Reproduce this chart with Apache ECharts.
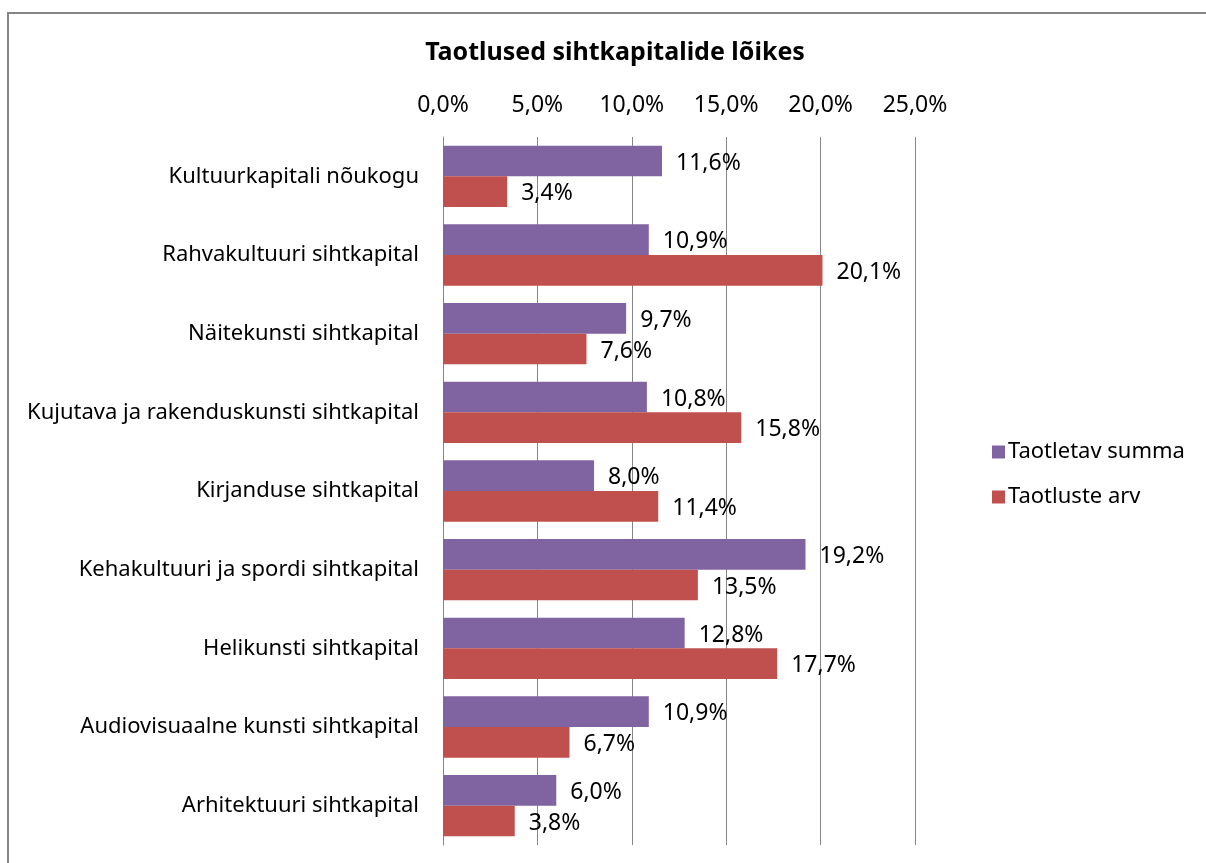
<!DOCTYPE html>
<html>
<head>
<meta charset="utf-8">
<script src="https://cdn.jsdelivr.net/npm/echarts@6/dist/echarts.min.js"></script>
<style>
html,body{margin:0;padding:0;background:#fff;}
#chart{width:1206px;height:863px;}
</style>
</head>
<body>
<div id="chart"></div>
<script>
const categories = [
  "Kultuurkapitali nõukogu",
  "Rahvakultuuri sihtkapital",
  "Näitekunsti sihtkapital",
  "Kujutava ja rakenduskunsti sihtkapital",
  "Kirjanduse sihtkapital",
  "Kehakultuuri ja spordi sihtkapital",
  "Helikunsti sihtkapital",
  "Audiovisuaalne kunsti sihtkapital",
  "Arhitektuuri sihtkapital"
];
const seriesNames = ["Taotletav summa", "Taotluste arv"];
const taotletavSumma = [11.6, 10.9, 9.7, 10.8, 8.0, 19.2, 12.8, 10.9, 6.0];
const taotlusteArv = [3.4, 20.1, 7.6, 15.8, 11.4, 13.5, 17.7, 6.7, 3.8];
const axisTicks = [0, 5, 10, 15, 20, 25];

const FONT = "Noto Sans";
const fmt = v => v.toFixed(1).replace('.', ',') + '%';

const chart = echarts.init(document.getElementById('chart'), null, {renderer: 'canvas'});
const labelStyle = {
  show: true,
  position: 'right',
  distance: 14,
  offset: [0, 2],
  fontFamily: FONT,
  fontSize: 23,
  color: '#000',
  formatter: p => fmt(p.value)
};
chart.setOption({
  animation: false,
  backgroundColor: '#fff',
  title: {
    text: 'Taotlused sihtkapitalide lõikes',
    left: 610,
    top: 35,
    textAlign: 'center',
    textStyle: {fontFamily: FONT, fontWeight: 'bold', fontSize: 25, color: '#000'}
  },
  legend: {
    orient: 'vertical',
    left: 987,
    top: 436,
    itemGap: 23,
    itemWidth: 13,
    itemHeight: 13,
    icon: 'rect',
    data: seriesNames,
    textStyle: {fontFamily: FONT, fontSize: 22, color: '#000', padding: [0, 0, 0, -2]}
  },
  graphic: [{
    type: 'rect',
    shape: {x: 8, y: 13, width: 1400, height: 1000},
    style: {fill: 'none', stroke: '#868686', lineWidth: 2},
    silent: true
  }],
  grid: {left: 443, right: 291, top: 137, height: 708, containLabel: false},
  xAxis: {
    type: 'value',
    position: 'top',
    min: axisTicks[0],
    max: axisTicks[axisTicks.length - 1],
    interval: 5,
    axisLine: {show: false},
    axisTick: {show: false},
    splitLine: {show: true, lineStyle: {color: '#868686', width: 1}},
    axisLabel: {
      fontFamily: FONT, fontSize: 23, color: '#000', margin: 20,
      formatter: v => fmt(v)
    }
  },
  yAxis: {
    type: 'category',
    data: categories,
    inverse: true,
    axisLine: {show: true, lineStyle: {color: '#868686', width: 1}},
    axisTick: {show: false},
    axisLabel: {fontFamily: FONT, fontSize: 22, color: '#000', margin: 24}
  },
  series: [
    {
      name: seriesNames[0],
      type: 'bar',
      data: taotletavSumma,
      barGap: '0%',
      barCategoryGap: '22%',
      itemStyle: {color: '#8064A2'},
      label: labelStyle
    },
    {
      name: seriesNames[1],
      type: 'bar',
      data: taotlusteArv,
      barGap: '0%',
      barCategoryGap: '22%',
      itemStyle: {color: '#C0504D'},
      label: labelStyle
    }
  ]
});
</script>
</body>
</html>
